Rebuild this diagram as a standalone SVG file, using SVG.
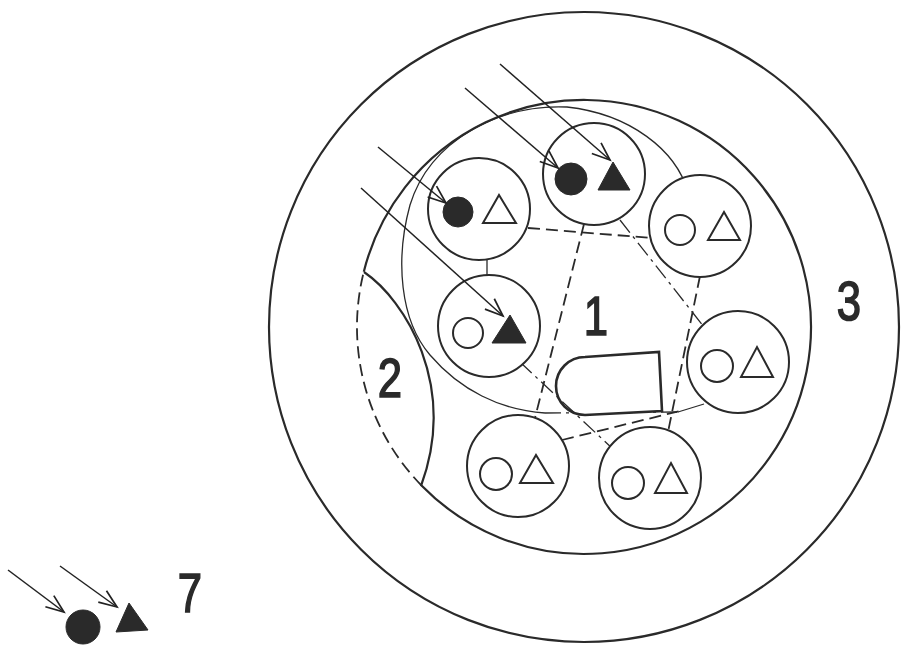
<svg xmlns="http://www.w3.org/2000/svg" width="903" height="650" viewBox="0 0 903 650">
<defs>
<marker id="vee" markerUnits="userSpaceOnUse" markerWidth="24" markerHeight="18" viewBox="-20 -9 22 18" refX="0" refY="0" orient="auto">
<path d="M-18,-7 L0,0 L-18,7" fill="none" stroke="#222" stroke-width="1.7"/>
</marker>
<style>
.ring{fill:none;stroke:#2a2a2a;stroke-width:2.2}
.node{fill:#fff;stroke:#2a2a2a;stroke-width:2}
.open{fill:none;stroke:#2a2a2a;stroke-width:2}
.fill{fill:#2a2a2a;stroke:#2a2a2a;stroke-width:1}
.dash{fill:none;stroke:#2a2a2a;stroke-width:1.8;stroke-dasharray:12,6}
.dashdot{fill:none;stroke:#2a2a2a;stroke-width:1.3;stroke-dasharray:16,5,3,5}
.thin{fill:none;stroke:#2a2a2a;stroke-width:1.3}
.arrow{fill:none;stroke:#222;stroke-width:1.5;marker-end:url(#vee)}
.lbl{font-family:"Liberation Sans",Arial,sans-serif;font-size:56px;fill:#2a2a2a;stroke:#2a2a2a;stroke-width:1.6;text-anchor:middle}
</style>
</defs>
<rect width="903" height="650" fill="#fff"/>

<g id="zone3">
<circle class="ring" cx="584" cy="327" r="315"/>
<path class="ring" d="M363.8,271.7 A227,227 0 1 1 421.5,485.5"/>
<path class="dash" d="M421.5,485.5 A227,227 0 0 1 363.8,271.7"/>
</g>

<g id="zone2">
<path class="ring" d="M364,272 C405,300 458,385 421,486"/>
</g>

<g id="zone1">
<path class="thin" d="M688,192 C676,150 630,114 567,107 C500,104 430,140 410,205 C395,260 400,320 430,355 C460,390 500,410 545,413"/>
<path class="dashdot" d="M545,413 L680,412"/>
<path class="thin" d="M678,412 L704,404"/>
<path d="M585,357 L659,352 L662,411 L585,415 A29,29 0 0 1 585,357 Z" fill="#fff" stroke="#2a2a2a" stroke-width="2.6"/>
</g>

<g id="connectors">
<line class="dash" x1="528" y1="228" x2="652" y2="238"/>
<line class="dash" x1="584" y1="224" x2="535" y2="418"/>
<line class="dash" x1="700" y1="276" x2="668" y2="432"/>
<line class="dash" x1="562" y1="440" x2="680" y2="411"/>
<line class="dashdot" x1="520" y1="362" x2="614" y2="450"/>
<line class="dashdot" x1="620" y1="220" x2="704" y2="327"/>
<line class="thin" x1="487" y1="256" x2="487" y2="280"/>
</g>

<g id="n1">
<circle class="node" cx="479" cy="209" r="51"/>
<circle class="fill" cx="458" cy="212" r="15"/>
<polygon class="open" points="483,223 516,223 499,195"/>
</g>
<g id="n2">
<circle class="node" cx="594" cy="174" r="51"/>
<circle class="fill" cx="571" cy="179" r="16"/>
<polygon class="fill" points="598,190 630,190 613,162"/>
</g>
<g id="n3">
<circle class="node" cx="700" cy="226" r="51"/>
<circle class="open" cx="680" cy="230" r="15"/>
<polygon class="open" points="708,240 740,240 724,212"/>
</g>
<g id="n4">
<circle class="node" cx="489" cy="326" r="51"/>
<circle class="open" cx="468" cy="333" r="15"/>
<polygon class="fill" points="492,343 526,343 510,315"/>
</g>
<g id="n5">
<circle class="node" cx="738" cy="362" r="51"/>
<circle class="open" cx="717" cy="366" r="16"/>
<polygon class="open" points="741,377 773,377 757,347"/>
</g>
<g id="n6">
<circle class="node" cx="518" cy="466" r="51"/>
<circle class="open" cx="496" cy="474" r="16"/>
<polygon class="open" points="520,483 553,483 536,455"/>
</g>
<g id="n7">
<circle class="node" cx="650" cy="478" r="51"/>
<circle class="open" cx="628" cy="483" r="16"/>
<polygon class="open" points="655,493 687,493 671,463"/>
</g>

<g id="arrows">
<line class="arrow" x1="378" y1="147" x2="446" y2="203"/>
<line class="arrow" x1="361" y1="188" x2="503" y2="316"/>
<line class="arrow" x1="465" y1="88" x2="558" y2="168"/>
<line class="arrow" x1="500" y1="64" x2="610" y2="160"/>
</g>

<g id="labels">
<text class="lbl" transform="translate(596,335) scale(0.78,1)">1</text>
<text class="lbl" transform="translate(390,397) scale(0.78,1)">2</text>
<text class="lbl" transform="translate(849,320) scale(0.78,1)">3</text>
</g>

<g id="legend">
<line class="arrow" x1="8" y1="570" x2="64" y2="612"/>
<line class="arrow" x1="60" y1="566" x2="117" y2="607"/>
<circle class="fill" cx="83" cy="627" r="17"/>
<polygon class="fill" points="116,632 148,630 129,603"/>
<text class="lbl" transform="translate(190,612) scale(0.78,1)">7</text>
</g>
</svg>
